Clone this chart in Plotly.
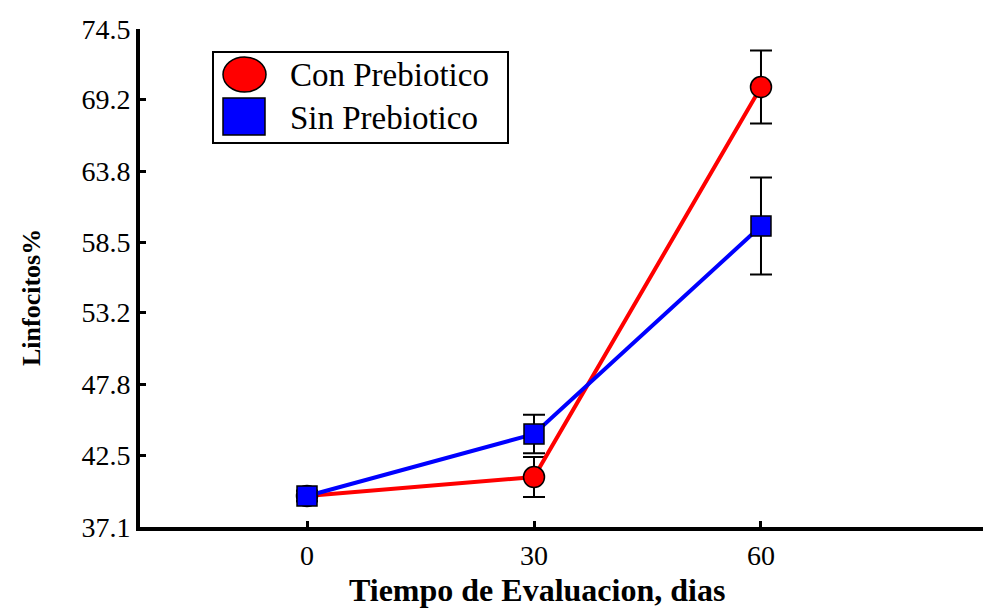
import plotly.graph_objects as go

days = [0, 30, 60]
con_prebiotico = [39.43, 40.85, 70.14]
con_err = [0.4, 1.5, 2.74]
sin_prebiotico = [39.43, 44.08, 59.70]
sin_err = [0.4, 1.45, 3.64]
y_ticks = [37.1, 42.5, 47.8, 53.2, 58.5, 63.8, 69.2, 74.5]
y_ticktext = ["37.1", "42.5", "47.8", "53.2", "58.5", "63.8", "69.2", "74.5"]

W, H = 983, 608
L, R, T, B = 140, 0, 29, 81
FONT = "'Liberation Serif', 'DejaVu Serif', serif"

fig = go.Figure()
fig.add_trace(go.Scatter(
    x=days, y=con_prebiotico, name="Con Prebiotico", mode="lines+markers",
    line=dict(color="#ff0000", width=4),
    marker=dict(symbol="circle", size=21, color="#ff0000", line=dict(color="black", width=1.5)),
    error_y=dict(type="data", array=con_err, color="black", thickness=2, width=11),
))
fig.add_trace(go.Scatter(
    x=days, y=sin_prebiotico, name="Sin Prebiotico", mode="lines+markers",
    line=dict(color="#0000ff", width=4),
    marker=dict(symbol="square", size=20, color="#0000ff", line=dict(color="black", width=1.5)),
    error_y=dict(type="data", array=sin_err, color="black", thickness=2, width=11),
))

pw = W - L - R
ph = H - T - B

def px_x(p):
    return (p - L) / pw

def px_y(p):
    return (H - B - p) / ph

shapes = [
    dict(type="rect", xref="paper", yref="paper", x0=px_x(213), x1=px_x(508), y0=px_y(143), y1=px_y(52),
         line=dict(color="black", width=2), fillcolor="white", layer="above"),
    dict(type="circle", xref="paper", yref="paper", x0=px_x(223), x1=px_x(266), y0=px_y(92), y1=px_y(57),
         line=dict(color="black", width=1.5), fillcolor="#ff0000", layer="above"),
    dict(type="rect", xref="paper", yref="paper", x0=px_x(223), x1=px_x(265), y0=px_y(135), y1=px_y(98),
         line=dict(color="black", width=1.5), fillcolor="#0000ff", layer="above"),
]
annotations = [
    dict(text="Con Prebiotico", xref="paper", yref="paper", x=px_x(288), y=px_y(75), xanchor="left",
         yanchor="middle", showarrow=False, font=dict(family=FONT, size=33, color="black")),
    dict(text="Sin Prebiotico", xref="paper", yref="paper", x=px_x(288), y=px_y(118), xanchor="left",
         yanchor="middle", showarrow=False, font=dict(family=FONT, size=33, color="black")),
    dict(text="<b>Tiempo de Evaluacion, dias</b>", xref="paper", yref="paper", x=px_x(537), y=px_y(590),
         xanchor="center", yanchor="middle", showarrow=False, font=dict(family=FONT, size=32, color="black")),
    dict(text="<b>Linfocitos%</b>", xref="paper", yref="paper", x=px_x(31), y=px_y(298), textangle=-90,
         xanchor="center", yanchor="middle", showarrow=False, font=dict(family=FONT, size=26, color="black")),
]

fig.update_layout(
    width=W, height=H,
    margin=dict(l=L, r=R, t=T, b=B),
    paper_bgcolor="white", plot_bgcolor="white",
    showlegend=False,
    font=dict(family=FONT, size=27, color="black"),
    shapes=shapes, annotations=annotations,
    xaxis=dict(range=[-22.07, 89.34], tickvals=days, ticktext=[str(d) for d in days],
               showline=True, linecolor="black", linewidth=4, ticks="inside", ticklen=6,
               tickwidth=3, tickcolor="black", showgrid=False, zeroline=False,
               tickfont=dict(family=FONT, size=28)),
    yaxis=dict(range=[37.1, 74.5], tickvals=y_ticks, ticktext=y_ticktext,
               showline=True, linecolor="black", linewidth=4, ticks="inside", ticklen=6,
               tickwidth=3, tickcolor="black", showgrid=False, zeroline=False,
               tickfont=dict(family=FONT, size=28)),
)

fig.write_html("out.html")
